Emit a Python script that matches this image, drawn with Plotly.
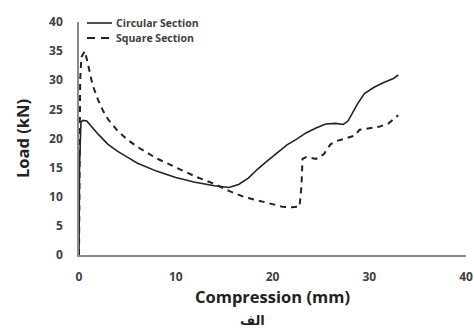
import plotly.graph_objects as go

circ_x = [0, 0.05, 0.2, 0.4, 0.8, 1.2, 2, 3, 4, 5, 6, 8, 10, 12, 14, 15.5, 16.5, 17.5, 18.5, 19.5,
          20.5, 21.5, 22.5, 23.5, 24.5, 25.5, 26.5, 27.3, 27.8, 28.3, 28.8, 29.5, 30.5, 31.5, 32.5, 33]
circ_y = [0, 15, 22.8, 23.1, 23, 22.2, 20.7, 19, 17.8, 16.8, 15.8, 14.4, 13.3, 12.5, 11.9, 11.6, 12.1, 13.2, 14.8, 16.2,
          17.6, 18.9, 19.9, 21.0, 21.8, 22.5, 22.6, 22.4, 23, 24.5, 26, 27.7, 28.8, 29.6, 30.3, 30.9]

sq_x = [0, 0.05, 0.12, 0.25, 0.6, 0.9, 1.4, 2, 2.5, 3, 4, 5, 6, 8, 10, 12, 14, 15.5, 17, 19, 20, 21, 22,
        22.8, 23, 23.1, 23.5, 24.5, 25.3, 26, 26.5, 27.5, 28.5, 29, 30, 31, 32, 33]
sq_y = [0, 20, 30, 34, 35, 33, 29.2, 26.5, 24.7, 23.3, 21.3, 19.8, 18.6, 16.6, 15, 13.5, 12.2, 11, 10, 9.2, 8.7, 8.3, 8.2,
        8.3, 12, 16.5, 16.8, 16.5, 17.3, 19, 19.5, 20, 20.5, 21.5, 21.7, 22, 22.6, 24]

series_names = ["Circular Section", "Square Section"]
x_ticks = [0, 10, 20, 30, 40]
y_ticks = [0, 5, 10, 15, 20, 25, 30, 35, 40]

FONT = "Open Sans"
LINE_COLOR = "#222222"

fig = go.Figure()
fig.add_trace(go.Scatter(x=circ_x, y=circ_y, mode="lines", name=series_names[0],
                         line=dict(color=LINE_COLOR, width=1.6)))
fig.add_trace(go.Scatter(x=sq_x, y=sq_y, mode="lines", name=series_names[1],
                         line=dict(color=LINE_COLOR, width=2, dash="6px,5px")))

# plot area: 79..466 px wide (387), 22..255 px tall (233)
L, R, T, B = 79, 8, 22, 78
PW, PH = 474.0 - L - R, 333.0 - T - B
fig.update_layout(
    width=474, height=333,
    margin=dict(l=L, r=R, t=T, b=B, autoexpand=False),
    paper_bgcolor="white", plot_bgcolor="white",
    font=dict(family=FONT, color="#404040", weight="bold"),
    showlegend=False,
    xaxis=dict(range=[0, 40], tickvals=x_ticks, showgrid=False, zeroline=False,
               showline=True, linecolor="#8a8a8a", linewidth=1.5, ticks="",
               ticklabelstandoff=10, ticklabeloverflow="allow",
               tickfont=dict(size=12, family=FONT, color="#404040", weight="bold"),
               title=dict(text="Compression (mm)", font=dict(size=16.5, family=FONT, color="#222222", weight="bold"),
                          standoff=3)),
    yaxis=dict(range=[0, 40], tickvals=y_ticks, showgrid=False, zeroline=False,
               showline=True, linecolor="#8a8a8a", linewidth=1.5, ticks="",
               ticklabelstandoff=12, ticklabeloverflow="allow",
               tickfont=dict(size=12, family=FONT, color="#404040", weight="bold"),
               title=dict(text="Load (kN)", font=dict(size=16.5, family=FONT, color="#222222", weight="bold"),
                          standoff=15)),
)

# manual legend
legend_rows_px = [23, 38]
legend_styles = [dict(color=LINE_COLOR, width=1.6), dict(color=LINE_COLOR, width=2, dash="8px,6px")]
for name, st, ypx in zip(series_names, legend_styles, legend_rows_px):
    yp = (333 - B - ypx) / PH
    fig.add_shape(type="line", xref="paper", yref="paper",
                  x0=(87 - L) / PW, x1=(112 - L) / PW, y0=yp, y1=yp, line=st)
    fig.add_annotation(text=name, xref="paper", yref="paper", x=(114 - L) / PW, y=yp,
                       xanchor="left", yanchor="middle", showarrow=False,
                       font=dict(size=10.5, family=FONT, color="#404040", weight="bold"))

fig.add_annotation(text="الف", xref="paper", yref="paper", x=(252 - L) / PW, y=-(320 - (333 - B)) / PH,
                   xanchor="center", yanchor="middle", showarrow=False,
                   font=dict(size=13, family="DejaVu Sans", color="#222222", weight="bold"))

fig.write_html("out.html", config={"displayModeBar": False},
               post_script="document.body.style.margin='0px';")
